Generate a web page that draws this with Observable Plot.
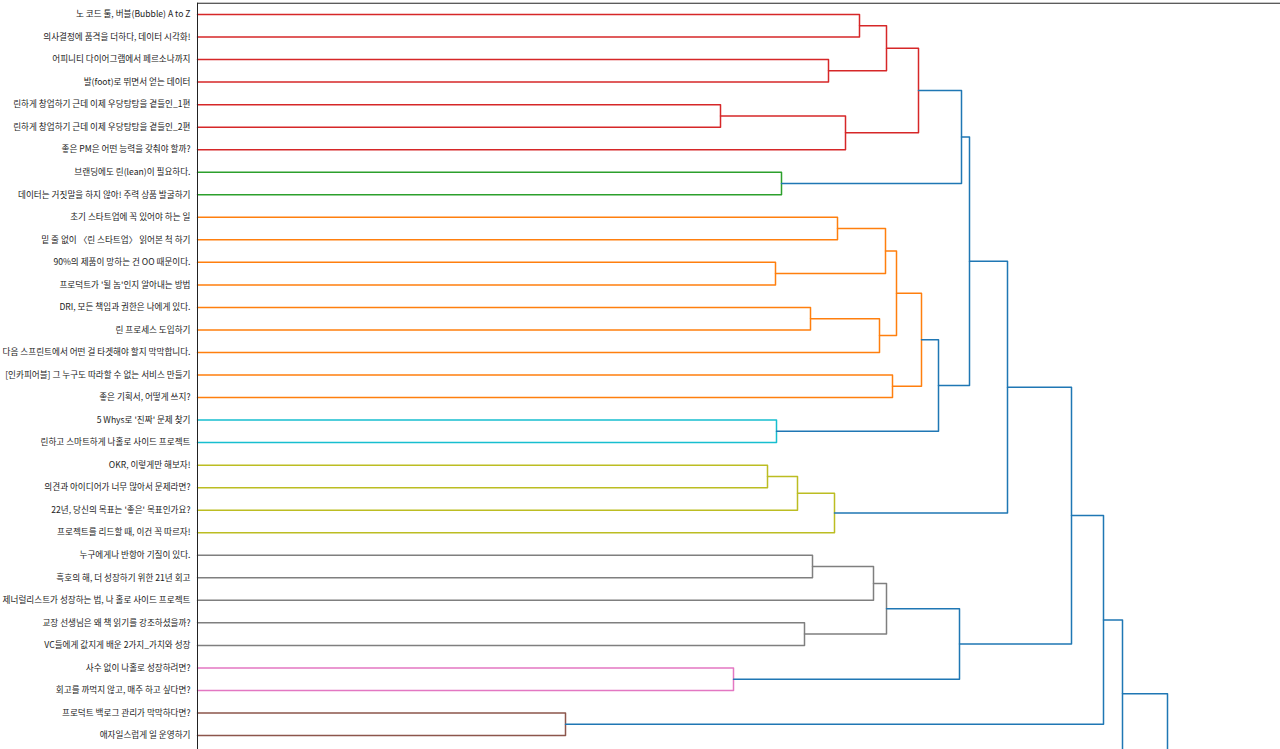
<!DOCTYPE html>
<html>
<head>
<meta charset="utf-8">
<script src="https://cdn.jsdelivr.net/npm/d3@7"></script>
<script src="https://cdn.jsdelivr.net/npm/@observablehq/plot@0.6"></script>
<style>
  html, body { margin: 0; padding: 0; background: #fff; overflow: hidden; }
  #chart svg { display: block; }
</style>
</head>
<body>
<div id="chart"></div>
<script>
// Leaf labels (top to bottom)
const labels = [
  "노 코드 툴, 버블(Bubble) A to Z",
  "의사결정에 품격을 더하다, 데이터 시각화!",
  "어피니티 다이어그램에서 페르소나까지",
  "발(foot)로 뛰면서 얻는 데이터",
  "린하게 창업하기 근데 이제 우당탕탕을 곁들인_1편",
  "린하게 창업하기 근데 이제 우당탕탕을 곁들인_2편",
  "좋은 PM은 어떤 능력을 갖춰야 할까?",
  "브랜딩에도 린(lean)이 필요하다.",
  "데이터는 거짓말을 하지 않아! 주력 상품 발굴하기",
  "초기 스타트업에 꼭 있어야 하는 일",
  "밑 줄 없이 〈린 스타트업〉 읽어본 척 하기",
  "90%의 제품이 망하는 건 OO 때문이다.",
  "프로덕트가 '될 놈'인지 알아내는 방법",
  "DRI, 모든 책임과 권한은 나에게 있다.",
  "린 프로세스 도입하기",
  "다음 스프린트에서 어떤 걸 타겟해야 할지 막막합니다.",
  "[인카피어블] 그 누구도 따라할 수 없는 서비스 만들기",
  "좋은 기획서, 어떻게 쓰지?",
  "5 Whys로 '진짜' 문제 찾기",
  "린하고 스마트하게 나홀로 사이드 프로젝트",
  "OKR, 이렇게만 해보자!",
  "의견과 아이디어가 너무 많아서 문제라면?",
  "22년, 당신의 목표는 '좋은' 목표인가요?",
  "프로젝트를 리드할 때, 이건 꼭 따르자!",
  "누구에게나 반항아 기질이 있다.",
  "흑호의 해, 더 성장하기 위한 21년 회고",
  "제너럴리스트가 성장하는 법, 나 홀로 사이드 프로젝트",
  "교장 선생님은 왜 책 읽기를 강조하셨을까?",
  "VC들에게 값지게 배운 2가지_가치와 성장",
  "사수 없이 나홀로 성장하려면?",
  "회고를 까먹지 않고, 매주 하고 싶다면?",
  "프로덕트 백로그 관리가 막막하다면?",
  "애자일스럽게 일 운영하기"
];

// Clusters (color groups)
const clusters = ["c1", "c2", "c3", "c4", "c5", "c6", "c7", "c8", "above"];
const clusterColors = ["#d62728", "#2ca02c", "#ff7f0e", "#17becf", "#bcbd22", "#7f7f7f", "#e377c2", "#8c564b", "#1f77b4"];

// Nodes continuing below the visible area (leaf-position, distance)
const hiddenIds = ["B0", "B1"];
const hiddenPos = [33.42, 38];
const hiddenDist = [8.9, 9.3];

// Merges: child A, child B, merge distance, cluster
const mergeA = ["L0","L2","M0","L4","M3","M2","L7","M5","L9","L11","M8","L13","M11","M10","L16","M13","L18","M15","M7","L20","M19","M20","M18","L24","M23","L27","M24","L29","M26","M22","L31","M29","M31","M32"];
const mergeB = ["L1","L3","M1","L5","L6","M4","L8","M6","L10","L12","M9","L14","L15","M12","L17","M14","L19","M16","M17","L21","L22","L23","M21","L25","L26","L28","M25","L30","M27","M28","L32","M30","B0","B1"];
const mergeDist = [6.62,6.31,6.89,5.23,6.48,7.21,5.84,7.64,6.40,5.78,6.88,6.13,6.82,6.99,6.95,7.24,5.79,7.41,7.72,5.70,6.00,6.37,8.10,6.15,6.76,6.07,6.89,5.36,7.62,8.74,3.68,9.06,9.25,9.70];
const mergeCluster = ["c1","c1","c1","c1","c1","c1","c2","above","c3","c3","c3","c3","c3","c3","c3","c3","c4","above","above","c5","c5","c5","above","c6","c6","c6","c6","c7","above","above","c8","above","above","above"];

// Build node table
const nodes = new Map();
labels.forEach((l, i) => nodes.set("L" + i, {pos: i, dist: 0}));
hiddenIds.forEach((id, i) => nodes.set(id, {pos: hiddenPos[i], dist: hiddenDist[i]}));
const linkPts = [];
mergeA.forEach((a, i) => {
  const A = nodes.get(a), B = nodes.get(mergeB[i]), d = mergeDist[i];
  nodes.set("M" + i, {pos: (A.pos + B.pos) / 2, dist: d});
  const c = mergeCluster[i];
  linkPts.push(
    {id: i, x: A.dist, y: A.pos, c},
    {id: i, x: d, y: A.pos, c},
    {id: i, x: d, y: B.pos, c},
    {id: i, x: B.dist, y: B.pos, c}
  );
});

const leaves = labels.map((label, i) => ({label, pos: i}));

const W = 1280, H = 1000;
const chart = Plot.plot({
  width: W,
  height: H,
  marginLeft: 197,
  marginRight: 0,
  marginTop: 3,
  marginBottom: 0,
  style: {fontFamily: "'Noto Sans CJK KR', 'Noto Sans', sans-serif", background: "#fff"},
  x: {domain: [0, 10.83], axis: null},
  y: {domain: [0, 32], range: [14, 735], axis: null},
  color: {domain: clusters, range: clusterColors},
  marks: [
    Plot.line(linkPts, {x: "x", y: "y", z: "id", stroke: "c", strokeWidth: 1.5, curve: "linear"}),
    Plot.text(leaves, {x: () => 0, y: "pos", text: "label", textAnchor: "end", dx: -7, fontSize: 8.6, fill: "#222"}),
    Plot.ruleY([-0.5], {stroke: "#222", strokeWidth: 1}),
    Plot.ruleX([0], {y1: -0.5, y2: 50, stroke: "#222", strokeWidth: 1})
  ]
});
document.getElementById("chart").appendChild(chart);
</script>
</body>
</html>
